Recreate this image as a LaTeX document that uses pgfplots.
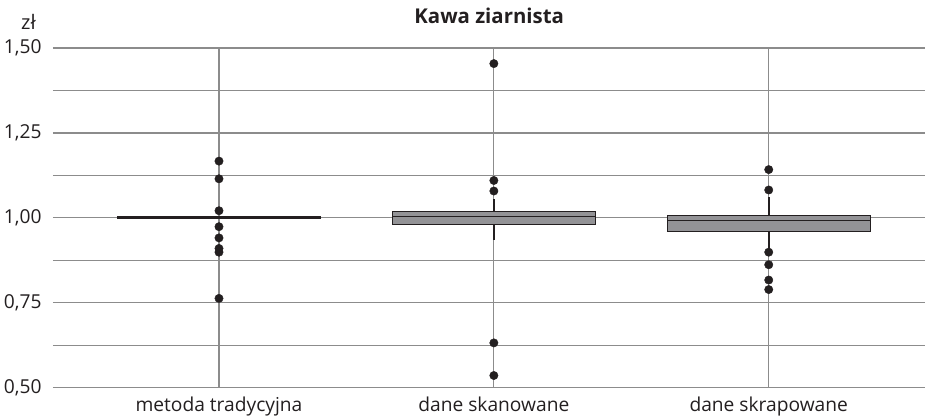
\documentclass[border=0pt]{standalone}
\usepackage{fontspec}
\setmainfont{Open Sans}
\usepackage{pgfplots}
\pgfplotsset{compat=1.18}
\usepgfplotslibrary{statistics}

\definecolor{boxfill}{RGB}{147,147,150}
\definecolor{gridc}{RGB}{140,140,140}
\definecolor{dark}{RGB}{35,31,32}

\begin{document}
\begin{tikzpicture}
\begin{axis}[
  name=ax,
  scale only axis, width=436.5pt, height=170pt,
  xmin=-0.604, xmax=2.57, ymin=0.5, ymax=1.5,
  xtick={0,1,2},
  xticklabels={metoda tradycyjna, dane skanowane, dane skrapowane},
  ytick={0.5,0.75,1,1.25,1.5},
  minor ytick={0.625,0.875,1.125,1.375},
  grid=both,
  major grid style={gridc, line width=0.6pt},
  minor grid style={gridc, line width=0.6pt},
  axis line style={draw=none},
  major tick length=0pt, minor tick length=0pt,
  yticklabel style={anchor=east, inner sep=0pt, xshift=-5.5pt,
    /pgf/number format/use comma, /pgf/number format/fixed,
    /pgf/number format/fixed zerofill, /pgf/number format/precision=2,
    /pgf/number format/assume math mode=true},
  xticklabel style={anchor=north, inner sep=0pt, yshift=-4.5pt},
  ticklabel style={font=\fontsize{9.6}{11}\selectfont, text=dark},
  title={Kawa ziarnista},
  every axis title shift=0pt,
  title style={font=\bfseries\fontsize{10.2}{11}\selectfont, text=dark, at={(0.5,1)}, anchor=base, inner sep=0pt, yshift=12pt},
  boxplot/draw direction=y,
  clip=false,
]
% metoda tradycyjna
\addplot[dark, line width=1.6pt, mark=*, mark size=2.1pt,
  mark options={solid, fill=dark, draw=dark, line width=0.2pt},
  boxplot prepared={draw position=0, median=1, lower quartile=1, upper quartile=1,
    lower whisker=1, upper whisker=1, box extend=0.74, whisker extend=0}]
  table[row sep=\\, y index=0]{data\\1.167\\1.115\\1.021\\0.974\\0.941\\0.910\\0.899\\0.763\\};
% dane skanowane
\addplot[draw=dark, fill=boxfill, line width=0.5pt, mark=*, mark size=2.1pt,
  mark options={solid, fill=dark, draw=dark, line width=0.2pt},
  boxplot/every whisker/.style={line width=0.8pt},
  boxplot/every median/.style={line width=0.8pt},
  boxplot prepared={draw position=1, median=1.004, lower quartile=0.981, upper quartile=1.020,
    lower whisker=0.936, upper whisker=1.055, box extend=0.74, whisker extend=0}]
  table[row sep=\\, y index=0]{data\\1.454\\1.110\\1.079\\0.632\\0.536\\};
% dane skrapowane
\addplot[draw=dark, fill=boxfill, line width=0.5pt, mark=*, mark size=2.1pt,
  mark options={solid, fill=dark, draw=dark, line width=0.2pt},
  boxplot/every whisker/.style={line width=0.8pt},
  boxplot/every median/.style={line width=0.8pt},
  boxplot prepared={draw position=2, median=0.992, lower quartile=0.959, upper quartile=1.007,
    lower whisker=0.908, upper whisker=1.061, box extend=0.74, whisker extend=0}]
  table[row sep=\\, y index=0]{data\\1.142\\1.082\\0.899\\0.862\\0.817\\0.789\\};
\node[font=\fontsize{10}{11}\selectfont, text=dark, anchor=base, inner sep=0pt] at ([xshift=-12.25pt, yshift=9pt]rel axis cs:0,1) {zł};
\end{axis}
\path ([xshift=-26.5pt,yshift=-13.5pt]ax.south west) rectangle ([yshift=24pt]ax.north east);
\end{tikzpicture}
\end{document}
